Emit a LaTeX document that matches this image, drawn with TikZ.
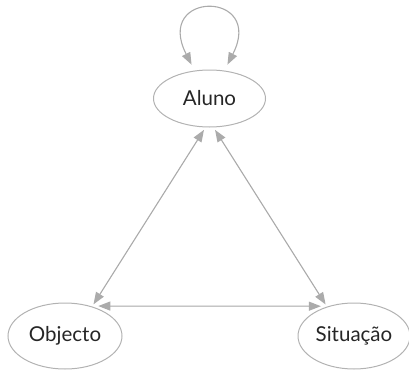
\documentclass[tikz,border=0pt]{standalone}
\usepackage{fontspec}
\setmainfont{Lato}
\usetikzlibrary{shapes.geometric,arrows.meta}

\begin{document}
\begin{tikzpicture}[x=1pt,y=-1pt]
  \tikzset{vertex/.style = {ellipse,draw=black!30,line width=1pt,inner sep=0pt,outer sep=3pt,text=black!85,font=\fontsize{20.5}{24}\selectfont}}
  \tikzset{link/.style = {<->,>={Triangle[length=12pt,width=9pt]},draw=black!33,fill=black!33,line width=1.1pt}}

\useasboundingbox (0,0) rectangle (409,369);

\node[vertex,minimum width=112pt,minimum height=57pt] (aluno) at (209.5,98.5) {Aluno};
\node[vertex,minimum width=114pt,minimum height=66pt] (obj)  at (65,336) {Objecto};
\node[vertex,minimum width=112pt,minimum height=66pt] (sit)  at (354,336) {Situação};

    \draw[link] (aluno.260) -- (obj.48);
    \draw[link] (aluno.280) -- (sit.132);
    \draw[link] (obj.42) -- (sit.138);
%   loop on top of Aluno
    \draw[link,fill=none,shorten <=4pt,shorten >=4pt] (aluno.118) .. controls +(-40,-78) and +(40,-78) .. (aluno.62);

\end{tikzpicture}
\end{document}
